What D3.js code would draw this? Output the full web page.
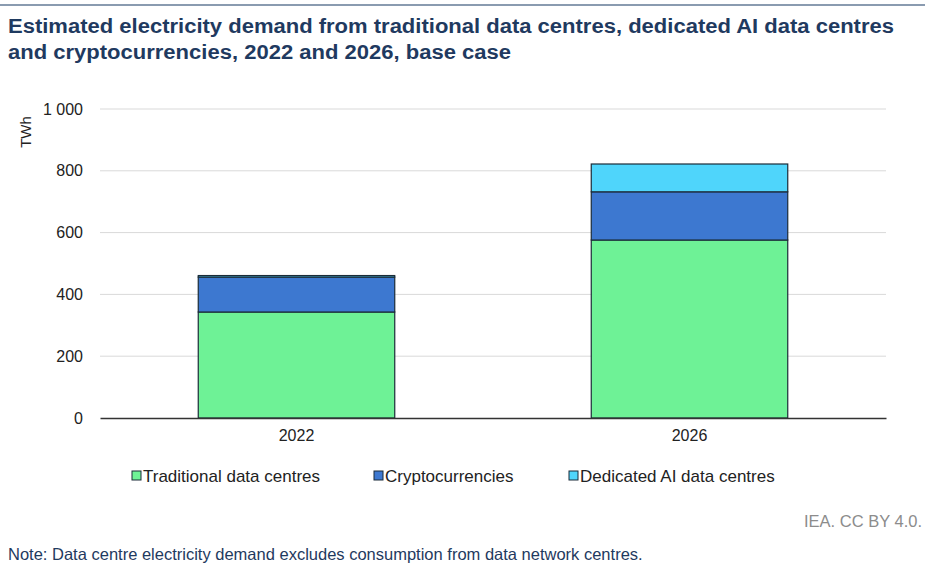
<!DOCTYPE html>
<html>
<head>
<meta charset="utf-8">
<script src="https://cdn.jsdelivr.net/npm/d3@7"></script>
<style>
  body { margin: 0; background: #fff; }
  text { font-family: "Liberation Sans", Arial, sans-serif; }
</style>
</head>
<body>
<div id="chart"></div>
<script>
// data (TWh)
var years = ["2022", "2026"];
var seriesNames = ["Traditional data centres", "Cryptocurrencies", "Dedicated AI data centres"];
var traditionalTWh = [343, 576];
var cryptoTWh = [113, 156];
var dedicatedAITWh = [5, 90];
var yTicks = [0, 200, 400, 600, 800, 1000];
var colors = ["#6ef296", "#3d78d0", "#4fd5fb"];

var W = 936, H = 563;
var margin = {top: 109, right: 50, bottom: 145, left: 100},
    width = W - margin.left - margin.right,
    height = H - margin.top - margin.bottom;

var svg = d3.select("#chart")
  .append("svg")
    .attr("width", W)
    .attr("height", H);

// top rule
svg.append("line")
  .attr("x1", 0).attr("x2", 925)
  .attr("y1", 5).attr("y2", 5)
  .attr("stroke", "#8a9bb0").attr("stroke-width", 2);

// title
var title = svg.append("text")
  .attr("x", 8).attr("y", 33)
  .attr("fill", "#1f3a60")
  .style("font-size", "20px")
  .style("font-weight", "bold");
title.append("tspan").attr("x", 8).attr("textLength", 886).attr("lengthAdjust", "spacingAndGlyphs")
  .text("Estimated electricity demand from traditional data centres, dedicated AI data centres");
title.append("tspan").attr("x", 8).attr("dy", 26).attr("textLength", 503).attr("lengthAdjust", "spacingAndGlyphs")
  .text("and cryptocurrencies, 2022 and 2026, base case");

var g = svg.append("g")
  .attr("transform", "translate(" + margin.left + "," + margin.top + ")");

var data = years.map(function(y, i) {
  return {year: y, trad: traditionalTWh[i], crypto: cryptoTWh[i], ai: dedicatedAITWh[i]};
});
var stack = d3.stack().keys(["trad", "crypto", "ai"])(data);

var x = d3.scaleBand()
  .domain(years)
  .range([0, width])
  .paddingInner(0.5)
  .paddingOuter(0.25);

var y = d3.scaleLinear()
  .domain([0, 1000])
  .range([height, 0]);

// gridlines
g.selectAll(".grid")
  .data(yTicks.slice(1))
  .enter()
  .append("line")
    .attr("x1", 0).attr("x2", width)
    .attr("y1", function(d) { return y(d); })
    .attr("y2", function(d) { return y(d); })
    .attr("stroke", "#d9d9d9").attr("stroke-width", 1);

// y axis labels
var yAxis = g.append("g")
  .call(d3.axisLeft(y).tickValues(yTicks).tickSize(0).tickPadding(17)
    .tickFormat(function(d) { return d3.format(",")(d).replace(",", " "); }));
yAxis.select(".domain").remove();
yAxis.selectAll("text").style("font-size", "16px").attr("fill", "#222");

// bars
g.selectAll(".layer")
  .data(stack)
  .enter()
  .append("g")
    .attr("fill", function(d, i) { return colors[i]; })
  .selectAll("rect")
  .data(function(d) { return d; })
  .enter()
  .append("rect")
    .attr("x", function(d) { return x(d.data.year); })
    .attr("y", function(d) { return y(d[1]); })
    .attr("width", x.bandwidth())
    .attr("height", function(d) { return y(d[0]) - y(d[1]); })
    .attr("stroke", "#1b2b38")
    .attr("stroke-width", 1.2);

// x axis
var xAxis = g.append("g")
  .attr("transform", "translate(0," + height + ")")
  .call(d3.axisBottom(x).tickSize(0).tickPadding(12));
xAxis.select(".domain").attr("stroke", "#333").attr("stroke-width", 1.5);
xAxis.selectAll("text").style("font-size", "16px").attr("fill", "#222");

// y axis title
svg.append("text")
  .attr("transform", "translate(31,132) rotate(-90)")
  .style("text-anchor", "middle")
  .style("font-size", "15px")
  .attr("fill", "#222")
  .text("TWh");

// legend
var legendX = [132, 374, 569];
var legend = svg.selectAll(".legend")
  .data(seriesNames)
  .enter()
  .append("g")
    .attr("transform", function(d, i) { return "translate(" + legendX[i] + ",476)"; });
legend.append("rect")
  .attr("x", 0).attr("y", -5)
  .attr("width", 9).attr("height", 9)
  .attr("fill", function(d, i) { return colors[i]; })
  .attr("stroke", "#1b2b38").attr("stroke-width", 1);
legend.append("text")
  .attr("x", 11).attr("y", 6)
  .style("font-size", "17px")
  .attr("fill", "#222")
  .text(function(d) { return d; });

// source and note
svg.append("text")
  .attr("x", 922).attr("y", 527)
  .style("text-anchor", "end")
  .style("font-size", "16.5px")
  .attr("fill", "#8c8c8c")
  .text("IEA. CC BY 4.0.");

svg.append("text")
  .attr("x", 8).attr("y", 560)
  .style("font-size", "16.5px")
  .attr("fill", "#1f3a60")
  .text("Note: Data centre electricity demand excludes consumption from data network centres.");
</script>
</body>
</html>
